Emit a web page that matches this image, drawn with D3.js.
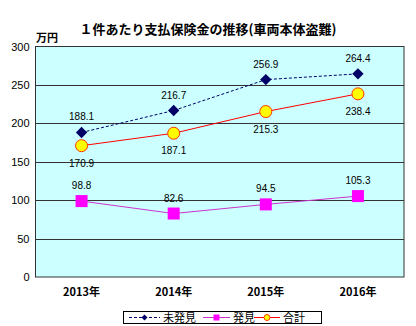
<!DOCTYPE html>
<html><head><meta charset="utf-8">
<script src="https://cdn.jsdelivr.net/npm/d3@7"></script>
<style>body{margin:0;background:#fff}svg{display:block;font-family:"Liberation Sans","Noto Sans CJK JP",sans-serif}</style>
</head><body><svg id="c" width="416" height="326"></svg>
<script>
const categories = ["2013年","2014年","2015年","2016年"];
const unfound = [188.1,216.7,256.9,264.4];
const found = [98.8,82.6,94.5,105.3];
const total = [170.9,187.1,215.3,238.4];
const yTicks = [0,50,100,150,200,250,300];
const seriesNames = ["未発見","発見","合計"];

const svg = d3.select("#c");
const m = {l:35.5,r:404,t:46.5,b:277};
const x = d3.scaleBand().domain(categories).range([m.l,m.r]);
const y = d3.scaleLinear().domain([0,300]).range([m.b,m.t]);
const cx = d => x(d)+x.bandwidth()/2;

svg.append("text").attr("x",208).attr("y",34).attr("text-anchor","middle")
  .attr("font-size",13).attr("font-weight","bold").attr("font-family","'Noto Sans CJK JP'")
  .text("１件あたり支払保険金の推移(車両本体盗難)");
svg.append("text").attr("x",36).attr("y",42).attr("font-size",11).attr("font-weight","bold")
  .attr("font-family","'Noto Sans CJK JP'").text("万円");

svg.append("rect").attr("x",m.l).attr("y",m.t).attr("width",m.r-m.l).attr("height",m.b-m.t)
  .attr("fill","#ccffff");
svg.append("g").selectAll("line").data(yTicks.filter(v=>v>0&&v<300)).join("line")
  .attr("x1",m.l).attr("x2",m.r).attr("y1",d=>Math.round(y(d))+0.5).attr("y2",d=>Math.round(y(d))+0.5)
  .attr("stroke","#333").attr("stroke-width",1);
svg.append("rect").attr("x",m.l).attr("y",m.t).attr("width",m.r-m.l).attr("height",m.b-m.t)
  .attr("fill","none").attr("stroke","#333").attr("stroke-width",1);

const ya = d3.axisLeft(y).tickValues(yTicks).tickSize(0).tickPadding(6);
svg.append("g").attr("transform",`translate(${m.l},0)`).call(ya)
  .call(g=>g.select(".domain").remove())
  .call(g=>g.selectAll("text").attr("font-size",11).attr("fill","#000").attr("font-family","'Liberation Sans'"));
const xa = d3.axisBottom(x).tickSize(0).tickPadding(11);
svg.append("g").attr("transform",`translate(0,${m.b})`).call(xa)
  .call(g=>g.select(".domain").remove())
  .call(g=>g.selectAll("text").attr("font-size",11).attr("font-weight","bold").attr("fill","#000").attr("font-family","'Noto Sans CJK JP'"));

const line = d3.line().x((d,i)=>cx(categories[i])).y(d=>y(d));
svg.append("path").datum(unfound).attr("d",line).attr("fill","none").attr("stroke","#000066").attr("stroke-dasharray","3,2").attr("stroke-width",1);
svg.append("path").datum(found).attr("d",line).attr("fill","none").attr("stroke","#cc33cc").attr("stroke-width",1);
svg.append("path").datum(total).attr("d",line).attr("fill","none").attr("stroke","#ff0000").attr("stroke-width",1);

const diamond = d3.symbol().type(d3.symbolSquare).size(64)();
svg.append("g").selectAll("path").data(unfound).join("path").attr("d",diamond)
  .attr("transform",(d,i)=>`translate(${cx(categories[i])},${y(d)}) rotate(45)`).attr("fill","#000066");
svg.append("g").selectAll("rect").data(found).join("rect")
  .attr("x",(d,i)=>cx(categories[i])-6).attr("y",d=>y(d)-6).attr("width",12).attr("height",12).attr("fill","#ff00ff");
svg.append("g").selectAll("circle").data(total).join("circle")
  .attr("cx",(d,i)=>cx(categories[i])).attr("cy",d=>y(d)).attr("r",6).attr("fill","#ffff00").attr("stroke","#ff3300").attr("stroke-width",1);

const lbl = (data, dy) => svg.append("g").selectAll("text").data(data).join("text")
  .attr("x",(d,i)=>cx(categories[i])).attr("y",d=>y(d)+dy).attr("text-anchor","middle")
  .attr("font-size",10).attr("font-family","'Liberation Sans'").text(d=>d.toFixed(1));
lbl(unfound,-12);
lbl(found,-12);
lbl(total,21);

// legend
const lg = svg.append("g");
lg.append("rect").attr("x",123.5).attr("y",311.5).attr("width",198).attr("height",12).attr("fill","#fff").attr("stroke","#000");
const items = [
  {x1:129, x2:160, name:seriesNames[0], stroke:"#000066", dash:"3,2", mk:"d"},
  {x1:203, x2:230, name:seriesNames[1], stroke:"#cc33cc", dash:null, mk:"s"},
  {x1:254, x2:280, name:seriesNames[2], stroke:"#ff0000", dash:null, mk:"c"}
];
items.forEach(it=>{
  const yy=317.5;
  lg.append("line").attr("x1",it.x1).attr("x2",it.x2).attr("y1",yy).attr("y2",yy).attr("stroke",it.stroke).attr("stroke-dasharray",it.dash);
  const mx=(it.x1+it.x2)/2;
  if(it.mk==="d") lg.append("path").attr("d",d3.symbol().type(d3.symbolSquare).size(18)()).attr("transform",`translate(${mx},${yy}) rotate(45)`).attr("fill","#000066");
  if(it.mk==="s") lg.append("rect").attr("x",mx-3).attr("y",yy-3).attr("width",6).attr("height",6).attr("fill","#ff00ff");
  if(it.mk==="c") lg.append("circle").attr("cx",mx).attr("cy",yy).attr("r",3).attr("fill","#ffff00").attr("stroke","#ff3300");
  lg.append("text").attr("x",it.x2+3).attr("y",yy+4).attr("font-size",11).attr("font-family","'Noto Sans CJK JP'").text(it.name);
});
</script></body></html>
